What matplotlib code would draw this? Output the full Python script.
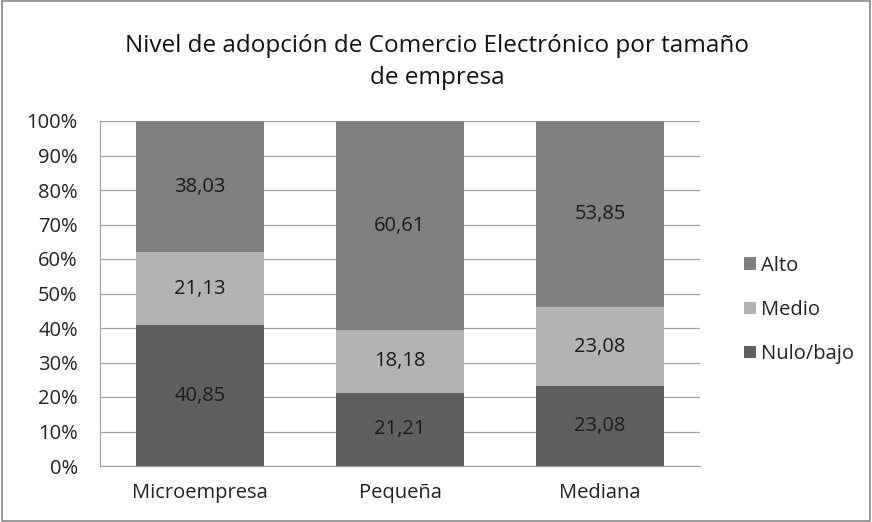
import matplotlib.pyplot as plt
import numpy as np

categories = ["Microempresa", "Pequeña", "Mediana"]
nulo_bajo = [40.85, 21.21, 23.08]
medio = [21.13, 18.18, 23.08]
alto = [38.03, 60.61, 53.85]
series_names = ["Nulo/bajo", "Medio", "Alto"]
colors = ["#606060", "#b3b3b3", "#808080"]

plt.rcParams['font.family'] = ['Open Sans', 'DejaVu Sans']

fig = plt.figure(figsize=(8.72, 5.22), dpi=100)
ax = fig.add_axes([100 / 872, 56 / 522, 600 / 872, 345 / 522])

x = np.arange(len(categories))
values = [nulo_bajo, medio, alto]
bottom = np.zeros(len(categories))
bars = []
for name, vals, col in zip(series_names, values, colors):
    vals = np.array(vals)
    pct = vals / (np.array(nulo_bajo) + np.array(medio) + np.array(alto)) * 100
    b = ax.bar(x, pct, 0.64, bottom=bottom, color=col, label=name, zorder=2)
    bars.append(b)
    for xi, bi, p, v in zip(x, bottom, pct, vals):
        ax.text(xi, bi + p / 2, f"{v:.2f}".replace(".", ","), ha="center", va="center",
                fontsize=14.5, color="#1a1a1a", zorder=3)
    bottom += pct

ax.set_xlim(-0.5, 2.5)
ax.set_ylim(0, 100)
ax.set_yticks(np.arange(0, 101, 10))
ax.set_yticklabels([f"{v}%" for v in range(0, 101, 10)])
ax.set_xticks(x)
ax.set_xticklabels(categories)
ax.tick_params(axis="both", length=0, labelsize=14.5, labelcolor="#222222")
ax.tick_params(axis="y", pad=16)
ax.tick_params(axis="x", pad=12)
ax.yaxis.grid(True, color="#a0a0a0", linewidth=0.9, zorder=0)
ax.set_axisbelow(True)
for s in ["top", "right"]:
    ax.spines[s].set_visible(False)
ax.spines["left"].set_color("#a0a0a0")
ax.spines["bottom"].set_color("#a0a0a0")

handles = [bars[2], bars[1], bars[0]]
leg = fig.legend(handles, ["Alto", "Medio", "Nulo/bajo"], loc="center left",
                 bbox_to_anchor=(726 / 872, 1 - 310 / 522), frameon=False,
                 fontsize=14.5, handlelength=0.6, handleheight=0.6,
                 handletextpad=0.25, labelspacing=1.2)
for t in leg.get_texts():
    t.set_color("#222222")

fig.text(437 / 872, 1 - 62 / 522, "Nivel de adopción de Comercio Electrónico por tamaño\nde empresa",
         ha="center", va="center", fontsize=17.5, color="#111111", linespacing=1.5,
         fontweight="medium")

fig.patches.append(plt.Rectangle((0.002, 0.002), 0.996, 0.996, transform=fig.transFigure,
                                 fill=False, edgecolor="#888888", linewidth=1.2))

fig.savefig("out.png", dpi=100)
